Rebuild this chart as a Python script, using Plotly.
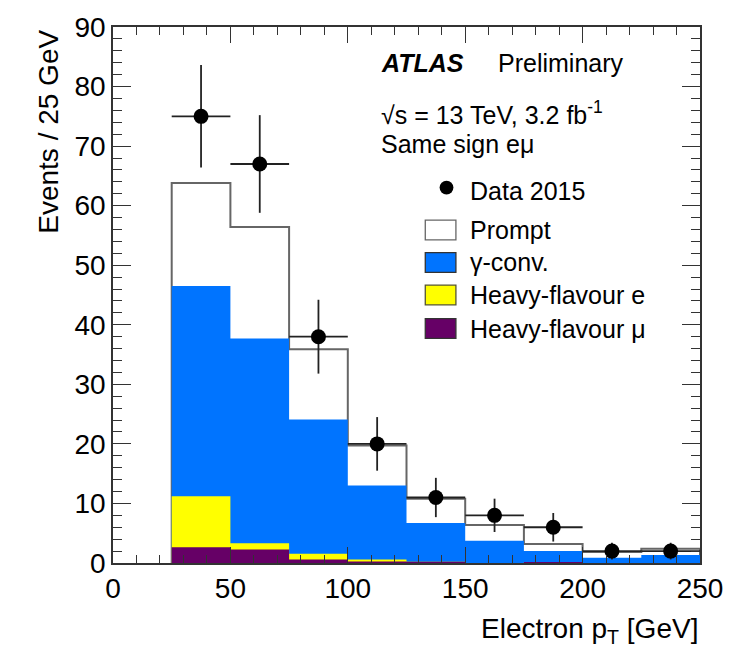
import numpy as np
import plotly.graph_objects as go

# Binning (Electron pT, GeV)
bin_edges = [25, 50, 75, 100, 125, 150, 175, 200, 225, 250]

# Stacked background components (events per bin)
hf_mu = [2.65, 2.25, 0.6, 0.25, 0.2, 0.0, 0.15, 0.0, 0.0]
hf_e = [8.55, 1.05, 0.95, 0.35, 0.0, 0.0, 0.0, 0.0, 0.0]
gamma_conv = [35.3, 34.4, 22.55, 12.4, 6.5, 3.75, 1.85, 0.9, 1.35]
prompt = [17.3, 18.7, 11.8, 6.75, 4.1, 2.65, 1.2, 0.95, 1.05]

# Data 2015
data_x = [37.5, 62.5, 87.5, 112.5, 137.5, 162.5, 187.5, 212.5, 237.5]
data_y = [75, 67, 38, 20, 11, 8, 6, 2, 2]
data_err = [8.6, 8.2, 6.2, 4.5, 3.3, 2.8, 2.4, 1.4, 1.4]
data_xerr = [12.5] * 9

# Axis tick labels
x_ticks = [0, 50, 100, 150, 200, 250]
y_ticks = [0, 10, 20, 30, 40, 50, 60, 70, 80, 90]

FONT = "Liberation Sans, Arial, Helvetica, sans-serif"
C_BLUE = "rgb(0,116,255)"
C_YELLOW = "rgb(255,255,0)"
C_PURPLE = "rgb(102,0,102)"
C_OUTLINE = "#666666"

W, H = 735, 654
ML, MR, MT, MB = 113, 28, 19, 91
PW, PH = W - ML - MR, H - MT - MB


def px(x):
    return (x - ML) / PW


def py(y):
    return (H - MB - y) / PH


def step_polygon(vals):
    xs, ys = [bin_edges[0]], [0.0]
    for i, v in enumerate(vals):
        xs += [bin_edges[i], bin_edges[i + 1]]
        ys += [v, v]
    xs.append(bin_edges[-1])
    ys.append(0.0)
    return xs, ys


mu = np.array(hf_mu)
cum_e = mu + np.array(hf_e)
cum_g = cum_e + np.array(gamma_conv)
total = cum_g + np.array(prompt)

fig = go.Figure()

# Total stack: white fill with grey outline
tx, ty = step_polygon(total)
fig.add_trace(go.Scatter(x=tx, y=ty, mode="lines", fill="toself",
                         fillcolor="white",
                         line=dict(color=C_OUTLINE, width=2),
                         showlegend=False, hoverinfo="skip"))

for vals, col in [(cum_g, C_BLUE), (cum_e, C_YELLOW), (mu, C_PURPLE)]:
    sx, sy = step_polygon(vals)
    fig.add_trace(go.Scatter(x=sx, y=sy, mode="lines", fill="toself",
                             fillcolor=col, line=dict(width=0, color=col),
                             showlegend=False, hoverinfo="skip"))

fig.add_trace(go.Scatter(
    x=data_x, y=data_y, mode="markers",
    marker=dict(color="black", size=15),
    error_y=dict(type="data", array=data_err, color="#222222",
                 thickness=1.8, width=0),
    error_x=dict(type="data", array=data_xerr, color="#222222",
                 thickness=1.8, width=0),
    showlegend=False))

axis_common = dict(
    showgrid=False, zeroline=False, showline=True, linecolor="#333333",
    linewidth=1.5, mirror="ticks", ticks="inside", tickcolor="#333333",
    tickwidth=1.3, tickfont=dict(family=FONT, size=28, color="black"),
)

fig.update_xaxes(range=[0, 250], tickvals=x_ticks, ticklen=16,
                 minor=dict(dtick=10, ticklen=8, ticks="inside",
                            tickcolor="#333333", tickwidth=1.3),
                 **axis_common)
fig.update_yaxes(range=[0, 90], tickvals=y_ticks, ticklen=18,
                 minor=dict(dtick=2, ticklen=9, ticks="inside",
                            tickcolor="#333333", tickwidth=1.3),
                 **axis_common)

ann = []
ann.append(dict(x=px(707), y=py(632), xref="paper", yref="paper",
                text="Electron p<sub>T</sub> [GeV]", showarrow=False,
                xanchor="right", yanchor="middle",
                font=dict(family=FONT, size=28, color="black")))
ann.append(dict(x=px(48), y=py(20), xref="paper", yref="paper",
                text="Events / 25 GeV", showarrow=False, textangle=-90,
                xanchor="center", yanchor="top",
                font=dict(family=FONT, size=28, color="black")))

txt_font = dict(family=FONT, size=25, color="black")
ann.append(dict(x=px(382), y=py(56), xref="paper", yref="paper",
                text="<b><i>ATLAS</i></b>", showarrow=False,
                xanchor="left", yanchor="middle", font=txt_font))
ann.append(dict(x=px(501), y=py(56), xref="paper", yref="paper",
                text="Preliminary", showarrow=False,
                xanchor="left", yanchor="middle", font=txt_font))
ann.append(dict(x=px(382), y=py(106), xref="paper", yref="paper",
                text="√s = 13 TeV, 3.2 fb<sup>-1</sup>", showarrow=False,
                xanchor="left", yanchor="middle", font=txt_font))
ann.append(dict(x=px(382), y=py(138), xref="paper", yref="paper",
                text="Same sign eμ", showarrow=False,
                xanchor="left", yanchor="middle", font=txt_font))

# Legend
legend_items = [
    ("Prompt", "white", C_OUTLINE, 225),
    ("γ-conv.", C_BLUE, "#333333", 258),
    ("Heavy-flavour e", C_YELLOW, "#555533", 291),
    ("Heavy-flavour μ", C_PURPLE, "#333333", 325),
]
shapes = []
shapes.append(dict(type="circle", xref="paper", yref="paper",
                   x0=px(443.5), x1=px(457.5), y0=py(175), y1=py(189),
                   fillcolor="black", line=dict(width=0)))
ann.append(dict(x=px(472), y=py(185), xref="paper", yref="paper",
                text="Data 2015", showarrow=False,
                xanchor="left", yanchor="middle", font=txt_font))
for label, fc, lc, yc in legend_items:
    shapes.append(dict(type="rect", xref="paper", yref="paper",
                       x0=px(429), x1=px(460), y0=py(yc - 10), y1=py(yc + 10),
                       fillcolor=fc, line=dict(color=lc, width=1.3)))
    ann.append(dict(x=px(472), y=py(yc), xref="paper", yref="paper",
                    text=label, showarrow=False,
                    xanchor="left", yanchor="middle", font=txt_font))

fig.update_layout(
    width=W, height=H,
    margin=dict(l=ML, r=MR, t=MT, b=MB),
    paper_bgcolor="white", plot_bgcolor="white",
    showlegend=False,
    annotations=ann, shapes=shapes,
    font=dict(family=FONT, color="black"),
)

fig.write_html("out.html")
